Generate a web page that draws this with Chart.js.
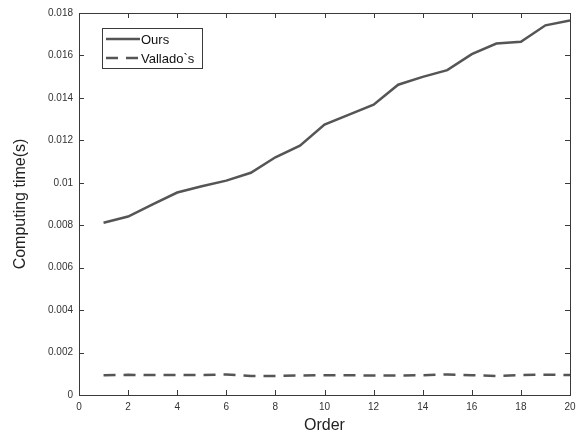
<!DOCTYPE html>
<html>
<head>
<meta charset="utf-8">
<script src="https://cdn.jsdelivr.net/npm/chart.js@4/dist/chart.umd.min.js"></script>
<style>
  html, body { margin: 0; padding: 0; background: #fff; }
  #wrap { width: 582px; height: 435px; }
</style>
</head>
<body>
<div id="wrap"><canvas id="chart" width="582" height="435"></canvas></div>
<script>
// data
var orders = [1,2,3,4,5,6,7,8,9,10,11,12,13,14,15,16,17,18,19,20];
var ours = [0.00812,0.00841,0.00898,0.00954,0.00984,0.01010,0.01047,0.01120,0.01175,0.01274,
            0.01321,0.01368,0.01462,0.01499,0.01531,0.01606,0.01656,0.01664,0.01742,0.01765];
var vallado = [0.00093,0.00095,0.00094,0.00094,0.00094,0.00097,0.00090,0.00090,0.00092,0.00093,
               0.00093,0.00092,0.00092,0.00093,0.00097,0.00093,0.00090,0.00094,0.00096,0.00094];
var seriesNames = ["Ours", "Vallado`s"];
var xTicks = [0,2,4,6,8,10,12,14,16,18,20];
var yTicks = [0,0.002,0.004,0.006,0.008,0.01,0.012,0.014,0.016,0.018];

var lineColor = "#555555";
var axisColor = "#3a3a3a";
var fontFam = "'Liberation Sans', Arial, sans-serif";

function toPoints(vals) {
  return orders.map(function (o, i) { return { x: o, y: vals[i] }; });
}

// draws the MATLAB-like box, inward ticks and legend
var boxPlugin = {
  id: "boxPlugin",
  beforeDatasetsDraw: function (chart) {
    var ctx = chart.ctx, a = chart.chartArea;
    var xs = chart.scales.x, ys = chart.scales.y;
    ctx.save();
    ctx.strokeStyle = axisColor;
    ctx.lineWidth = 1;
    ctx.strokeRect(a.left + 0.5, a.top + 0.5, a.right - a.left, a.bottom - a.top);
    ctx.beginPath();
    xTicks.forEach(function (t) {
      var px = Math.round(xs.getPixelForValue(t)) + 0.5;
      ctx.moveTo(px, a.bottom); ctx.lineTo(px, a.bottom - 5);
      ctx.moveTo(px, a.top); ctx.lineTo(px, a.top + 5);
    });
    yTicks.forEach(function (t) {
      var py = Math.round(ys.getPixelForValue(t)) + 0.5;
      ctx.moveTo(a.left, py); ctx.lineTo(a.left + 5, py);
      ctx.moveTo(a.right, py); ctx.lineTo(a.right - 5, py);
    });
    ctx.stroke();
    ctx.restore();
  },
  afterDraw: function (chart) {
    var ctx = chart.ctx;
    var lx = 102, ly = 28, lw = 100, lh = 40;
    ctx.save();
    ctx.fillStyle = "#fff";
    ctx.fillRect(lx, ly, lw, lh);
    ctx.strokeStyle = axisColor;
    ctx.lineWidth = 1;
    ctx.strokeRect(lx + 0.5, ly + 0.5, lw, lh);
    chart.data.datasets.forEach(function (ds, i) {
      var y = ly + 11 + i * 19;
      ctx.beginPath();
      ctx.strokeStyle = ds.borderColor;
      ctx.lineWidth = ds.borderWidth;
      ctx.setLineDash(ds.borderDash || []);
      ctx.moveTo(106, y); ctx.lineTo(140, y);
      ctx.stroke();
      ctx.setLineDash([]);
      ctx.fillStyle = "#111";
      ctx.font = "13px " + fontFam;
      ctx.textBaseline = "middle";
      ctx.fillText(ds.label, 141, y + 1);
    });
    ctx.restore();
  }
};

new Chart(document.getElementById("chart"), {
  type: "line",
  data: {
    datasets: [
      { label: seriesNames[0], data: toPoints(ours), borderColor: lineColor, borderWidth: 2.5,
        pointRadius: 0, fill: false, tension: 0 },
      { label: seriesNames[1], data: toPoints(vallado), borderColor: lineColor, borderWidth: 2.5,
        borderDash: [12, 8], pointRadius: 0, fill: false, tension: 0 }
    ]
  },
  options: {
    responsive: false,
    animation: false,
    layout: { padding: { top: 13, right: 12, left: 0, bottom: 0 } },
    plugins: { legend: { display: false }, tooltip: { enabled: false } },
    scales: {
      x: {
        type: "linear", min: 0, max: 20,
        afterBuildTicks: function (s) { s.ticks = xTicks.map(function (v) { return { value: v }; }); },
        afterFit: function (s) { s.height = 40; },
        grid: { display: false, drawTicks: false },
        border: { display: false },
        ticks: { color: "#333", font: { family: fontFam, size: 10 }, padding: 6, maxRotation: 0 },
        title: { display: true, text: "Order", color: "#222", font: { family: fontFam, size: 16 },
                 padding: { top: 0, bottom: 0 } }
      },
      y: {
        type: "linear", min: 0, max: 0.018,
        afterBuildTicks: function (s) { s.ticks = yTicks.map(function (v) { return { value: v }; }); },
        afterFit: function (s) { s.width = 79; },
        grid: { display: false, drawTicks: false },
        border: { display: false },
        ticks: {
          color: "#333", font: { family: fontFam, size: 10 }, padding: 6,
          callback: function (v) { return String(parseFloat(v.toFixed(3))); }
        },
        title: { display: true, text: "Computing time(s)", color: "#222", font: { family: fontFam, size: 16 },
                 padding: { top: 11, bottom: 0 } }
      }
    }
  },
  plugins: [boxPlugin]
});
</script>
</body>
</html>
